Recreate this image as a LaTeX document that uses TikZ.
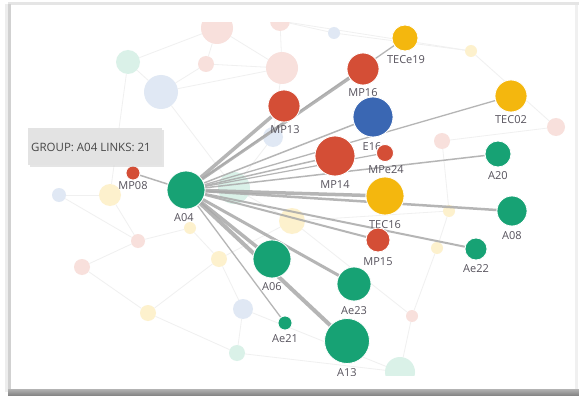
\documentclass[tikz,border=0pt]{standalone}
\usepackage{fontspec}
\setmainfont{Open Sans}
\definecolor{cgreen}{HTML}{17A274}
\definecolor{cred}{HTML}{D44E36}
\definecolor{cyellow}{HTML}{F4B70E}
\definecolor{cblue}{HTML}{3A67B3}
\definecolor{fpink}{HTML}{F8E0DC}
\definecolor{fblue}{HTML}{E0E8F4}
\definecolor{fgreen}{HTML}{DAF1E8}
\definecolor{fyellow}{HTML}{FDF1CD}
\definecolor{labtxt}{HTML}{56525C}
\definecolor{edgecol}{HTML}{A9A9A9}
\definecolor{fedge}{HTML}{F0F0F0}
\pgfdeclarelayer{bg}\pgfdeclarelayer{l0}\pgfdeclarelayer{l1}\pgfdeclarelayer{l2}
\pgfsetlayers{bg,l0,l1,l2,main}
\tikzset{
  dot/.style={circle,inner sep=0pt,minimum size=#1,draw=white,line width=0.8pt},
  fdot/.style={circle,inner sep=0pt,minimum size=#1},
  lab/.style={text=labtxt,font=\fontsize{11}{12}\selectfont,inner sep=0pt},
  medge/.style={draw=edgecol,line width=#1,draw opacity=0.85},
  fe/.style={draw=fedge,line width=0.8pt},
}
\newcommand{\plotclip}{\clip (11,23) rectangle (575,375.5);}
\begin{document}
\begin{tikzpicture}[x=1pt,y=-1pt]
\useasboundingbox (0,0) rectangle (579,396);
\begin{pgfonlayer}{bg}
\fill[white] (0,0) rectangle (579,396);
% frame
\fill[black!10] (8,2) rectangle (579,5);
\fill[black!18] (8,4) rectangle (11,392);
\fill[black!7] (5,4) rectangle (8,392);
\fill[black!6] (575,5) rectangle (578,390);
\shade[top color=black!30,bottom color=black!50] (8,389) rectangle (579,396);
\end{pgfonlayer}

% faint nodes
\begin{pgfonlayer}{l1}
\plotclip
\node[fdot=32,fill=fpink] (f1) at (217,28) {};
\node[fdot=20,fill=fpink] (f2) at (280,21) {};
\node[fdot=16,fill=fpink] (f3) at (206,64) {};
\node[fdot=32,fill=fpink] (f4) at (282,68) {};
\node[fdot=12,fill=fblue] (f5) at (334,33) {};
\node[fdot=24,fill=fgreen] (f6) at (128,62) {};
\node[fdot=34,fill=fblue] (f7) at (161,92) {};
\node[fdot=20,fill=fblue] (f8) at (273,137) {};
\node[fdot=12,fill=fyellow] (f9) at (471,51) {};
\node[fdot=18,fill=fpink] (f10) at (556,127) {};
\node[fdot=16,fill=fpink] (f11) at (442,141) {};
\node[fdot=14,fill=fblue] (f12) at (59,195) {};
\node[fdot=22,fill=fyellow] (f13) at (110,195) {};
\node[fdot=32,fill=fgreen] (f14) at (234,188) {};
\node[fdot=12,fill=fyellow] (f15) at (190,228) {};
\node[fdot=26,fill=fyellow] (f16) at (292,221) {};
\node[fdot=12,fill=fyellow] (f17) at (449,211) {};
\node[fdot=12,fill=fyellow] (f18) at (437,248) {};
\node[fdot=14,fill=fpink] (f19) at (138,241) {};
\node[fdot=16,fill=fpink] (f20) at (82,267) {};
\node[fdot=16,fill=fyellow] (f21) at (219,259) {};
\node[fdot=20,fill=fblue] (f22) at (243,309) {};
\node[fdot=16,fill=fyellow] (f23) at (148,313) {};
\node[fdot=16,fill=fgreen] (f24) at (237,353) {};
\node[fdot=12,fill=fpink] (f25) at (412,316) {};
\node[fdot=30,fill=fgreen] (f26) at (400,372) {};
\end{pgfonlayer}

% faint edges
\begin{pgfonlayer}{l0}
\plotclip
\foreach \a/\b in {f1/f3,f1/f4,f3/f7,f6/f7,f7/f4,f4/f2,f2/f5,f1/f6,f3/f4,f5/f9,f9/f10,f4/f8,f7/f14,f6/f13,f13/f12,f13/f19,f19/f20,f14/f16,f16/f21,f21/f22,f22/f24,f23/f24,f23/f21,f15/f21,f16/f17,f17/f18,f18/f25,f25/f26,f11/f17,f11/f10,f22/f26,f19/f15,f2/f9,f8/f14,f20/f23,f12/f19,f24/f26,f16/f25}
  \draw[fe] (\a) -- (\b);
\end{pgfonlayer}

% main nodes
\begin{scope}
\plotclip
\node[dot=38,fill=cgreen] (A04) at (186,190) {};
\node[lab] (lA04) at (184,218) {A04};
\node[dot=14,fill=cred] (MP08) at (133,173) {};
\node[lab] (lMP08) at (133,186) {MP08};
\node[dot=32,fill=cred] (MP13) at (284,106) {};
\node[lab] (lMP13) at (285,130) {MP13};
\node[dot=26,fill=cyellow] (TECe19) at (405,38) {};
\node[lab] (lTECe19) at (406,60) {TECe19};
\node[dot=32,fill=cred] (MP16) at (363,69) {};
\node[lab] (lMP16) at (363,93) {MP16};
\node[dot=40,fill=cblue] (E16) at (373,117) {};
\node[lab] (lE16) at (372,147) {E16};
\node[dot=17,fill=cred] (MPe24) at (385,153) {};
\node[lab] (lMPe24) at (386,170) {MPe24};
\node[dot=40,fill=cred] (MP14) at (335,156) {};
\node[lab] (lMP14) at (335,185) {MP14};
\node[dot=32,fill=cyellow] (TEC02) at (511,96) {};
\node[lab] (lTEC02) at (511,120) {TEC02};
\node[dot=26,fill=cgreen] (A20) at (498,154) {};
\node[lab] (lA20) at (498,176) {A20};
\node[dot=38,fill=cyellow] (TEC16) at (385,196) {};
\node[lab] (lTEC16) at (385,225) {TEC16};
\node[dot=30,fill=cgreen] (A08) at (512,211) {};
\node[lab] (lA08) at (512,236) {A08};
\node[dot=24,fill=cred] (MP15) at (378,240) {};
\node[lab] (lMP15) at (378,262) {MP15};
\node[dot=22,fill=cgreen] (Ae22) at (476,249) {};
\node[lab] (lAe22) at (476,269) {Ae22};
\node[dot=38,fill=cgreen] (A06) at (272,259) {};
\node[lab] (lA06) at (272,287) {A06};
\node[dot=34,fill=cgreen] (Ae23) at (354,284) {};
\node[lab] (lAe23) at (354,311) {Ae23};
\node[dot=14,fill=cgreen] (Ae21) at (285,323) {};
\node[lab] (lAe21) at (285,339) {Ae21};
\node[dot=45,fill=cgreen] (A13) at (347,341) {};
\node[lab] (lA13) at (347,373) {A13};
\end{scope}

% main edges
\begin{pgfonlayer}{l2}
\plotclip
\draw[medge=1.5pt] (A04) -- (MP08);
\draw[medge=3.5pt] (A04) -- (MP13);
\draw[medge=3pt] (A04) -- (MP16);
\draw[medge=1.3pt] (A04) -- (TECe19);
\draw[medge=1.5pt] (A04) -- (E16);
\draw[medge=1.3pt] (A04) -- (TEC02);
\draw[medge=1.5pt] (A04) -- (MP14);
\draw[medge=1.2pt] (A04) -- (MPe24);
\draw[medge=1.5pt] (A04) -- (A20);
\draw[medge=3.5pt] (A04) -- (TEC16);
\draw[medge=2.5pt] (A04) -- (A08);
\draw[medge=2pt] (A04) -- (MP15);
\draw[medge=2pt] (A04) -- (Ae22);
\draw[medge=3.5pt] (A04) -- (A06);
\draw[medge=3pt] (A04) -- (Ae23);
\draw[medge=1.3pt] (A04) -- (Ae21);
\draw[medge=4pt] (A04) -- (A13);
\end{pgfonlayer}

% tooltip
\fill[black!20,opacity=0.5] (30,130) rectangle (164,167);
\node[fill=black!11,minimum width=134pt,minimum height=37pt,anchor=north west,inner sep=0pt] (tip) at (28,128) {};
\node[anchor=west,text=black!72,font=\fontsize{11.5}{12}\selectfont,inner sep=0pt] (tiptext) at (31,147) {GROUP: A04 LINKS: 21};
\end{tikzpicture}
\end{document}
